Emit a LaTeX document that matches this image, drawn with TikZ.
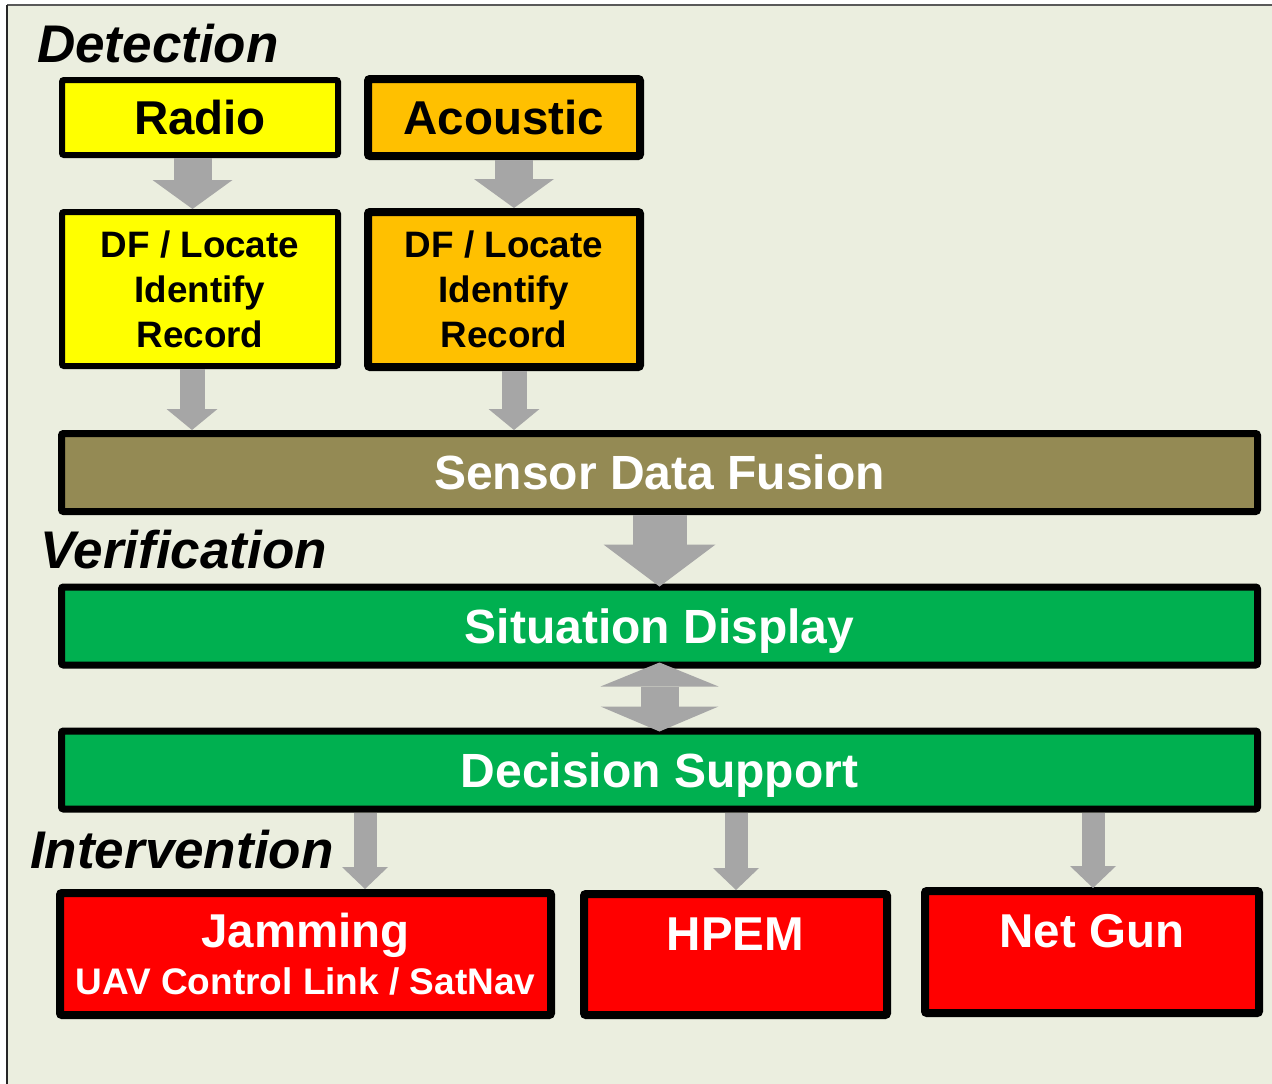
\documentclass[tikz,border=0pt]{standalone}
\usepackage{fontspec}
\setmainfont{Liberation Sans}
\usetikzlibrary{arrows.meta,calc}

\definecolor{panelbg}{RGB}{235,238,223}
\definecolor{radioyellow}{HTML}{FFFF00}
\definecolor{acousticorange}{HTML}{FFC000}
\definecolor{fusionolive}{HTML}{948A54}
\definecolor{stepgreen}{HTML}{00B050}
\definecolor{effectred}{HTML}{FF0000}
\definecolor{arrowgray}{HTML}{A6A6A6}

\begin{document}
\begin{tikzpicture}[x=1pt,y=-1pt,
  boxbase/.style={draw=black, line width=7pt, rounded corners=2pt, inner sep=0pt, outer sep=3.5pt},
  thinbox/.style={boxbase, line width=6pt, outer sep=3pt},
  bigtext/.style={font=\bfseries\fontsize{47.5}{47.5}\selectfont},
  bartext/.style={font=\bfseries\fontsize{48}{48}\selectfont},
  dftext/.style={font=\bfseries\fontsize{36.8}{45}\selectfont, align=center},
  capline/.style={text height=34pt, text depth=0pt},
  topline/.style={text height=34pt, text depth=43pt},
  heading/.style={font=\bfseries\itshape\fontsize{53}{53}\selectfont, anchor=base west, inner sep=0pt},
  wide/.style={minimum width=1196pt, minimum height=78pt},
  bigarrow/.style={draw=arrowgray, line width=38pt, -{Triangle[width=80pt,length=29pt,line width=0pt]}},
  midarrow/.style={draw=arrowgray, line width=25pt, -{Triangle[width=51pt,length=21pt,line width=0pt]}},
  fusearrow/.style={draw=arrowgray, line width=54pt, -{Triangle[width=112pt,length=42pt,line width=0pt]}},
  twoway/.style={draw=arrowgray, line width=38pt, {Triangle[width=118pt,length=24pt,line width=0pt]}-{Triangle[width=118pt,length=25pt,line width=0pt]}},
  smallarrow/.style={draw=arrowgray, line width=23pt, -{Triangle[width=46pt,length=22pt,line width=0pt]}}
]
\useasboundingbox (0,0) rectangle (1272,1084);
% panel
\fill[white] (0,0) rectangle (1272,1084);
\fill[panelbg] (7,5) rectangle (1272,1084);
\draw[line width=2pt, black!65] (7,5) -- (1272,5);
\draw[line width=1.5pt, black!85] (7,5) -- (7,1084);

% section headings
\node[heading] (hdet) at (37,62) {Detection};
\node[heading] (hver) at (40,568) {Verification};
\node[heading] (hint) at (30,868) {Intervention};

% detection sensors
\node[thinbox, fill=radioyellow, bigtext, capline, minimum width=276pt, minimum height=75pt] (radio) at (200,117.5) {Radio};
\node[boxbase, line width=8pt, outer sep=4pt, fill=acousticorange, bigtext, capline, minimum width=272pt, minimum height=77pt] (acoustic) at (504,117.5) {Acoustic};
\node[thinbox, fill=radioyellow, dftext, minimum width=276pt, minimum height=154pt] (dfradio) at (200,289) {DF / Locate\\Identify\\Record};
\node[boxbase, line width=8pt, outer sep=4pt, fill=acousticorange, dftext, minimum width=272pt, minimum height=155pt] (dfacoustic) at (504,289.5) {DF / Locate\\Identify\\Record};

% fusion and verification bars
\node[boxbase, fill=fusionolive, text=white, bartext, capline, wide] (fusion) at (659.5,472.5) {Sensor Data Fusion};
\node[boxbase, fill=stepgreen, text=white, bartext, capline, wide] (situation) at (659.5,626) {Situation Display};
\node[boxbase, fill=stepgreen, text=white, bartext, capline, wide] (decision) at (659.5,770) {Decision Support};

% intervention effectors
\node[boxbase, line width=8pt, outer sep=4pt, fill=effectred, text=white, align=center, minimum width=491pt, minimum height=122pt,
      font=\bfseries\fontsize{47.5}{47.5}\selectfont] (jam) at (305.5,954)
      {Jamming\\{\fontsize{37}{47.5}\selectfont UAV Control Link / SatNav}};
\node[boxbase, line width=8pt, outer sep=4pt, fill=effectred, text=white, bigtext, topline, minimum width=303pt, minimum height=121pt] (hpem) at (735.5,954.5) {HPEM};
\node[boxbase, line width=8pt, outer sep=4pt, fill=effectred, text=white, bigtext, topline, minimum width=334pt, minimum height=122pt] (netgun) at (1092,952) {Net Gun};

% flow arrows
\coordinate (radioout) at ([xshift=-7.5pt]radio.south);
\coordinate (acousticout) at ([xshift=10pt]acoustic.south);
\draw[bigarrow] (radioout) -- (dfradio.north -| radioout);
\draw[bigarrow] (acousticout) -- (dfacoustic.north -| acousticout);

\coordinate (dfradioout) at ([xshift=-8pt]dfradio.south);
\coordinate (dfacousticout) at ([xshift=10pt]dfacoustic.south);
\draw[midarrow] (dfradioout) -- (fusion.north -| dfradioout);
\draw[midarrow] (dfacousticout) -- (fusion.north -| dfacousticout);

\draw[fusearrow] (fusion.south) -- ([yshift=-3pt]situation.north);
\draw[twoway] ([yshift=6pt]situation.south) -- ([yshift=-4pt]decision.north);

\coordinate (jamin) at ([xshift=59.5pt]jam.north);
\coordinate (hpemin) at ([xshift=0.5pt]hpem.north);
\coordinate (netgunin) at ([xshift=1pt]netgun.north);
\draw[smallarrow] (decision.south -| jamin) -- (jamin);
\draw[smallarrow] (decision.south -| hpemin) -- (hpemin);
\draw[smallarrow] (decision.south -| netgunin) -- ([yshift=-1pt]netgunin);
\end{tikzpicture}
\end{document}
